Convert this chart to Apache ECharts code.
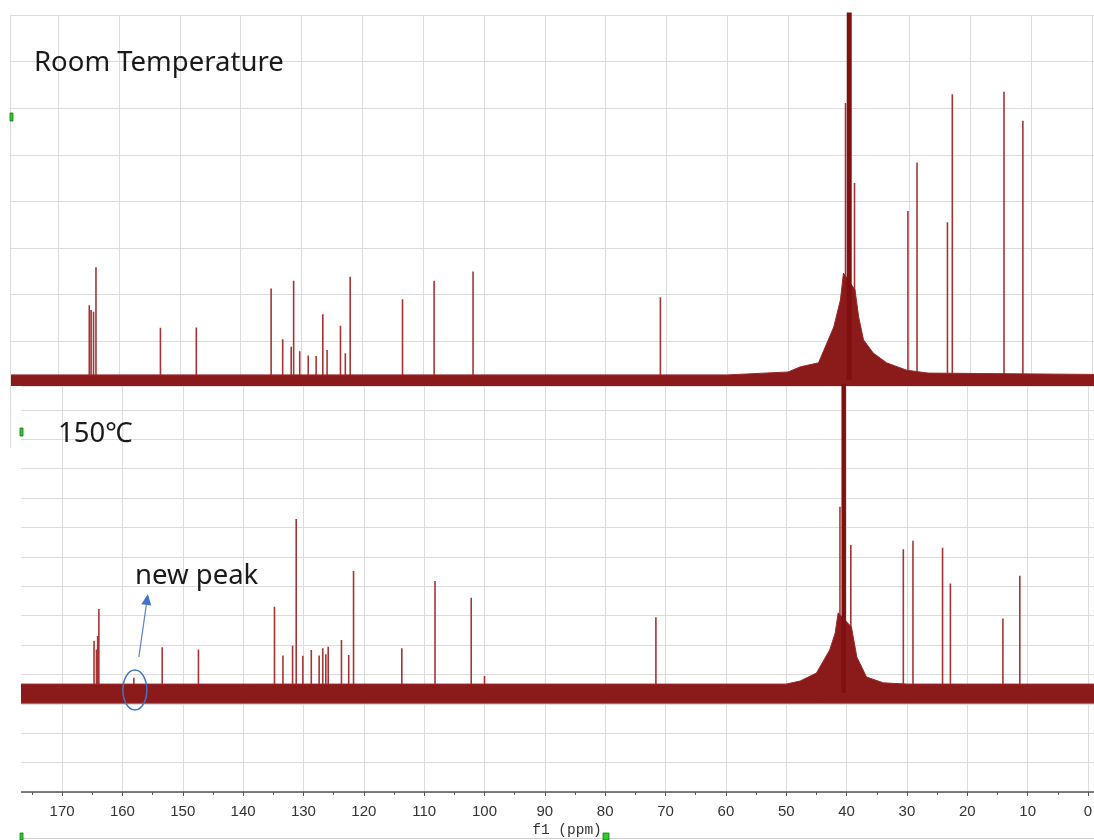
<!DOCTYPE html>
<html>
<head>
<meta charset="utf-8">
<script src="https://cdn.jsdelivr.net/npm/echarts@6.0.0/dist/echarts.min.js"></script>
<style>
html,body{margin:0;padding:0;background:#fff;}
#chart{width:1094px;height:840px;}
</style>
</head>
<body>
<div id="chart"></div>
<script>
// ---------- data ----------
const axisMinPpm = -10, axisMaxPpm = 180, ppmStep = 10;
const axisTitle = 'f1 (ppm)';
const panelTitles = ['Room Temperature', '150\u2103'];
const annotationText = 'new peak';

// Room temperature spectrum: peak positions (ppm) and heights (relative, panel top = 100)
const rtPeakPpm = [164.9,164.6,164.2,163.8,153.2,147.3,135.0,133.1,131.7,131.3,130.3,128.9,127.6,126.5,125.8,123.6,122.8,122.0,113.4,108.2,101.8,71.0,40.56,39.08,30.3,28.8,23.8,23.0,14.5,11.4];
const rtPeakInt = [20.5,19.2,18.7,30.9,14.3,14.4,25.1,11.2,9.1,27.2,7.9,6.7,6.6,18.0,8.2,14.9,7.3,28.3,22.1,27.2,29.7,22.7,75.9,54.0,46.3,59.6,43.2,78.3,79.0,71.0];
const rtSolventPpm = [39.95];
const rtSolventInt = [160];
// noise band: upper envelope (with the solvent hump) and floor
const rtNoisePpm = [180,60,50,48,45,42.5,41.4,40.9,39.0,38.4,37.6,36.0,33.8,30.5,27,-10];
const rtNoiseTop = [1.4,1.4,2.2,3.6,4.7,14.5,21.9,29.3,24.7,17.3,11.0,7.4,4.7,2.7,1.9,1.4];
const rtNoiseFloor = -1.9;

// 150 °C spectrum
const htPeakPpm = [164.7,164.3,164.1,163.9,158.1,153.4,147.4,134.8,133.4,131.8,131.2,130.1,128.7,127.4,126.8,126.3,125.9,123.7,122.5,121.7,113.7,108.2,102.2,100.0,71.6,41.1,39.3,30.6,29.0,24.1,22.8,14.1,11.3];
const htPeakInt = [17.0,14.2,18.6,27.4,5.0,14.9,14.2,28.1,12.2,15.4,56.7,12.1,14.0,12.2,14.6,12.6,15.1,17.3,12.4,39.7,14.6,36.5,31.0,5.5,24.7,60.7,48.2,46.8,49.6,47.3,35.7,24.3,38.2];
const htSolventPpm = [40.48];
const htSolventInt = [160];
const htNoisePpm = [180,50,47.7,45.0,42.8,41.9,41.4,39.2,38.3,36.7,33.9,30,-10];
const htNoiseTop = [2.9,2.9,3.9,6.5,14.0,19.5,26.1,21.5,11.7,5.2,3.3,2.9,2.9];
const htNoiseFloor = -3.3;
const newPeakPpm = 158.1;

// ---------- helpers ----------
function sticks(ppm, ints){
  const out = [];
  ppm.forEach((p,i)=>{ out.push([p,0]); out.push([p,ints[i]]); out.push([p,0]); out.push([p,null]); });
  return out;
}
function bandSeries(xi, yi, ppm, top, floor){
  return {
    type:'custom', coordinateSystem:'cartesian2d', xAxisIndex:xi, yAxisIndex:yi, clip:true, silent:true, z:3,
    data: ppm.map((p,i)=>[p, top[i]]),
    renderItem:(params, api)=>{
      if (params.dataIndex !== 0) return null;
      const pts = ppm.map((p,i)=>api.coord([p, top[i]]));
      pts.push(api.coord([ppm[ppm.length-1], floor]));
      pts.push(api.coord([ppm[0], floor]));
      return {type:'polygon', shape:{points:pts}, style:{fill:'#8b1a1a', stroke:'#9c2a2a', lineWidth:1}};
    }
  };
}

const gridColor = '#dcdcdc';
const peakColor = '#a53535';

const chart = echarts.init(document.getElementById('chart'), null, {renderer:'canvas'});

const hiddenAxis = {axisLine:{show:false}, axisTick:{show:false}, axisLabel:{show:false}};

const option = {
  animation:false,
  backgroundColor:'#ffffff',
  grid:[
    {left:-2.56, width:1155.58, top:15, height:371, outerBoundsMode:'none', containLabel:false},
    {left:1.7, width:1146.65, top:386, height:406, outerBoundsMode:'none', containLabel:false}
  ],
  xAxis:[
    Object.assign({gridIndex:0, type:'value', inverse:true, min:axisMinPpm, max:axisMaxPpm, interval:ppmStep,
      splitLine:{show:true, lineStyle:{color:gridColor, width:1}}}, hiddenAxis),
    {gridIndex:1, type:'value', inverse:true, min:axisMinPpm, max:axisMaxPpm, interval:ppmStep, position:'bottom',
      axisLine:{show:true, onZero:false, lineStyle:{color:'#555', width:1.5}},
      axisTick:{show:true, length:4, lineStyle:{color:'#555', width:1}},
      minorTick:{show:true, splitNumber:2, length:3, lineStyle:{color:'#555', width:1}},
      axisLabel:{show:true, fontSize:15, color:'#333', margin:12, fontFamily:'Liberation Sans',
        formatter:(v)=> (v<0||v>176)?'':String(v)},
      splitLine:{show:true, lineStyle:{color:gridColor, width:1}}}
  ],
  yAxis:[
    Object.assign({gridIndex:0, type:'value', inverse:true, min:0, max:7.961, interval:1,
      splitLine:{show:true, lineStyle:{color:gridColor, width:1}}}, hiddenAxis),
    Object.assign({gridIndex:0, type:'value', min:-1.64, max:100, splitLine:{show:false}}, hiddenAxis),
    Object.assign({gridIndex:1, type:'value', min:0, max:13.81, interval:1,
      splitLine:{show:true, lineStyle:{color:gridColor, width:1}}}, hiddenAxis),
    Object.assign({gridIndex:1, type:'value', min:-32.25, max:100, splitLine:{show:false}}, hiddenAxis)
  ],
  series:[
    {type:'line', xAxisIndex:0, yAxisIndex:1, data:sticks(rtPeakPpm, rtPeakInt), symbol:'none', connectNulls:false,
      lineStyle:{color:peakColor, width:1.6}, z:2},
    {type:'line', xAxisIndex:0, yAxisIndex:1, data:sticks(rtSolventPpm, rtSolventInt), symbol:'none',
      lineStyle:{color:'#800f0f', width:5}, z:4},
    bandSeries(0, 1, rtNoisePpm, rtNoiseTop, rtNoiseFloor),

    {type:'line', xAxisIndex:1, yAxisIndex:3, data:sticks(htPeakPpm, htPeakInt), symbol:'none', connectNulls:false,
      lineStyle:{color:peakColor, width:1.6}, z:2},
    {type:'line', xAxisIndex:1, yAxisIndex:3, data:sticks(htSolventPpm, htSolventInt), symbol:'none',
      lineStyle:{color:'#800f0f', width:4.5}, z:4},
    bandSeries(1, 3, htNoisePpm, htNoiseTop, htNoiseFloor)
  ]
};
chart.setOption(option);

// ---------- annotations ----------
const np = chart.convertToPixel({xAxisIndex:1, yAxisIndex:3}, [newPeakPpm, 0]);
const cx = np[0] + 1, cy = np[1] - 3;
const tail = [cx + 4, cy - 33];
const tip = [cx + 13, cy - 96];
const dx = tip[0]-tail[0], dy = tip[1]-tail[1], L = Math.hypot(dx,dy);
const ux = dx/L, uy = dy/L, px = -uy, py = ux;
const headLen = 11, headHalf = 5;
const baseX = tip[0]-ux*headLen, baseY = tip[1]-uy*headLen;

const textFont = '"Noto Sans","Noto Sans CJK SC",sans-serif';
chart.setOption({
  graphic:[
    {type:'rect', z:100, shape:{x:0,y:0,width:10,height:386}, style:{fill:'#fff'}},
    {type:'rect', z:100, shape:{x:0,y:386,width:21,height:454}, style:{fill:'#fff'}},
    {type:'line', z:101, shape:{x1:10.5,y1:15,x2:10.5,y2:448}, style:{stroke:gridColor, lineWidth:1}},
    {type:'line', z:101, shape:{x1:21,y1:838.5,x2:1094,y2:838.5}, style:{stroke:'#d0d0d0', lineWidth:1}},
    {type:'text', z:102, style:{text:panelTitles[0], x:34, y:63, font:'27.5px '+textFont, fill:'#1a1a1a', verticalAlign:'middle'}},
    {type:'text', z:102, style:{text:panelTitles[1], x:58, y:434.5, font:'27.5px '+textFont, fill:'#1a1a1a', verticalAlign:'middle'}},
    {type:'text', z:102, style:{text:annotationText, x:135, y:576.5, font:'27.5px '+textFont, fill:'#1a1a1a', verticalAlign:'middle'}},
    {type:'text', z:102, style:{text:axisTitle, x:567, y:830, font:'14.5px "Liberation Mono",monospace', fill:'#333', align:'center', verticalAlign:'middle'}},
    {type:'ellipse', z:102, shape:{cx:cx, cy:cy, rx:12, ry:20}, style:{fill:'none', stroke:'#4472c4', lineWidth:1.5}},
    {type:'line', z:102, shape:{x1:tail[0], y1:tail[1], x2:baseX, y2:baseY}, style:{stroke:'#5b7fcf', lineWidth:1.2}},
    {type:'polygon', z:102, shape:{points:[[tip[0],tip[1]],[baseX+px*headHalf, baseY+py*headHalf],[baseX-px*headHalf, baseY-py*headHalf]]}, style:{fill:'#4472c4'}},
    {type:'rect', z:103, shape:{x:10,y:113,width:3,height:8}, style:{fill:'#2ecc2e', stroke:'#1a6e1a', lineWidth:0.8}},
    {type:'rect', z:103, shape:{x:20,y:428,width:3,height:8}, style:{fill:'#2ecc2e', stroke:'#1a6e1a', lineWidth:0.8}},
    {type:'rect', z:103, shape:{x:603,y:833,width:6,height:7}, style:{fill:'#2ecc2e', stroke:'#1a6e1a', lineWidth:0.8}},
    {type:'rect', z:103, shape:{x:20,y:833,width:3,height:7}, style:{fill:'#2ecc2e', stroke:'#1a6e1a', lineWidth:0.8}}
  ]
});
</script>
</body>
</html>
